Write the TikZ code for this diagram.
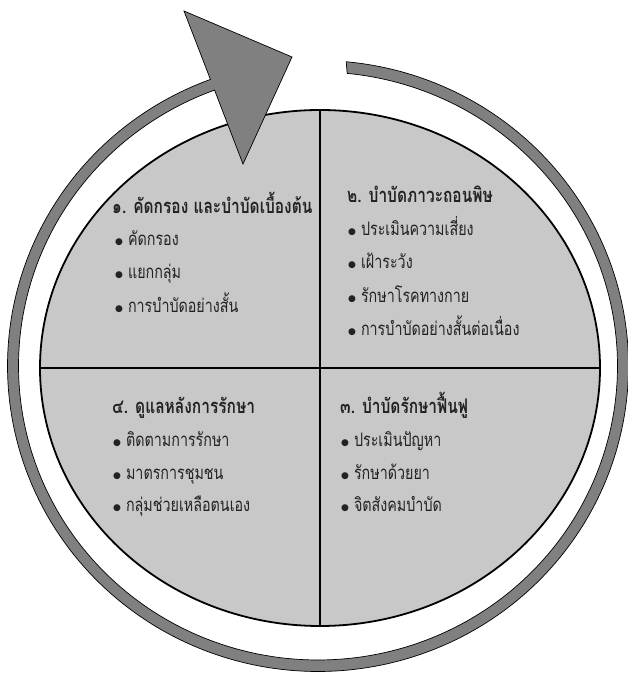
\documentclass[tikz,border=0pt]{standalone}
\usepackage{fontspec}
\usepackage{graphicx}
\setmainfont{Liberation Serif}
\newfontfamily\thai[Script=Thai]{Loma}
\newfontfamily\dejavu{DejaVu Sans}
\definecolor{innerfill}{HTML}{C8C8C8}
\definecolor{ringfill}{HTML}{808080}
\definecolor{txt}{HTML}{222222}
\newcommand\tall[1]{\scalebox{1}[1.3]{#1}}
\newcommand\bul{\raisebox{1.5pt}{\dejavu\fontsize{9}{9}\selectfont ●}\hspace{5pt}}
\tikzset{
  qtitle/.style={anchor=base west, inner sep=0pt, text=txt, font=\thai\bfseries\fontsize{15.5}{17}\selectfont},
  qitem/.style={anchor=base west, inner sep=0pt, text=txt, font=\thai\fontsize{14.3}{16}\selectfont},
  ringshape/.style={fill=ringfill, draw=black, line width=0.7pt, line join=miter},
  divider/.style={draw=black, line width=1.6pt},
}
\begin{document}
\begin{tikzpicture}[x=1pt,y=1pt]
\useasboundingbox (0,0) rectangle (628,674);
% inner disc
\fill[innerfill] (320,306) ellipse [x radius=280, y radius=258];
\draw[divider] (320,48) -- (320,564);
\draw[divider] (40,306) -- (600,306);
\draw[line width=1.8pt] (320,306) ellipse [x radius=280, y radius=258];
% ring with arrow head
\path[ringshape]
  plot[domain=110.27:444.8, samples=200, smooth] ({318+310.5*cos(\x)},{308+305.5*sin(\x)})
  -- plot[domain=444.4:110.2, samples=200, smooth] ({318+299.5*cos(\x)},{308+294*sin(\x)})
  -- (243,510) -- (292,617) -- (184,663) -- cycle;
% quadrant 1
\node[qtitle] (t1) at (112,460) {\tall{๑. คัดกรอง และบำบัดเบื้องต้น}};
\node[qitem] (a1) at (115,428) {\bul\tall{คัดกรอง}};
\node[qitem] (a2) at (115,395) {\bul\tall{แยกกลุ่ม}};
\node[qitem] (a3) at (115,361) {\bul\tall{การบำบัดอย่างสั้น}};
% quadrant 2
\node[qtitle] (t2) at (347,471) {\tall{๒. บำบัดภาวะถอนพิษ}};
\node[qitem] (b1) at (348,438) {\bul\tall{ประเมินความเสี่ยง}};
\node[qitem] (b2) at (348,405) {\bul\tall{เฝ้าระวัง}};
\node[qitem] (b3) at (348,371) {\bul\tall{รักษาโรคทางกาย}};
\node[qitem] (b4) at (348,338) {\bul\tall{การบำบัดอย่างสั้นต่อเนื่อง}};
% quadrant 3
\node[qtitle] (t3) at (340,260) {\tall{๓. บำบัดรักษาฟื้นฟู}};
\node[qitem] (c1) at (341,227) {\bul\tall{ประเมินปัญหา}};
\node[qitem] (c2) at (341,194) {\bul\tall{รักษาด้วยยา}};
\node[qitem] (c3) at (341,162) {\bul\tall{จิตสังคมบำบัด}};
% quadrant 4
\node[qtitle] (t4) at (112,260) {\tall{๔. ดูแลหลังการรักษา}};
\node[qitem] (d1) at (113,227) {\bul\tall{ติดตามการรักษา}};
\node[qitem] (d2) at (113,194) {\bul\tall{มาตรการชุมชน}};
\node[qitem] (d3) at (113,162) {\bul\tall{กลุ่มช่วยเหลือตนเอง}};
\end{tikzpicture}
\end{document}
